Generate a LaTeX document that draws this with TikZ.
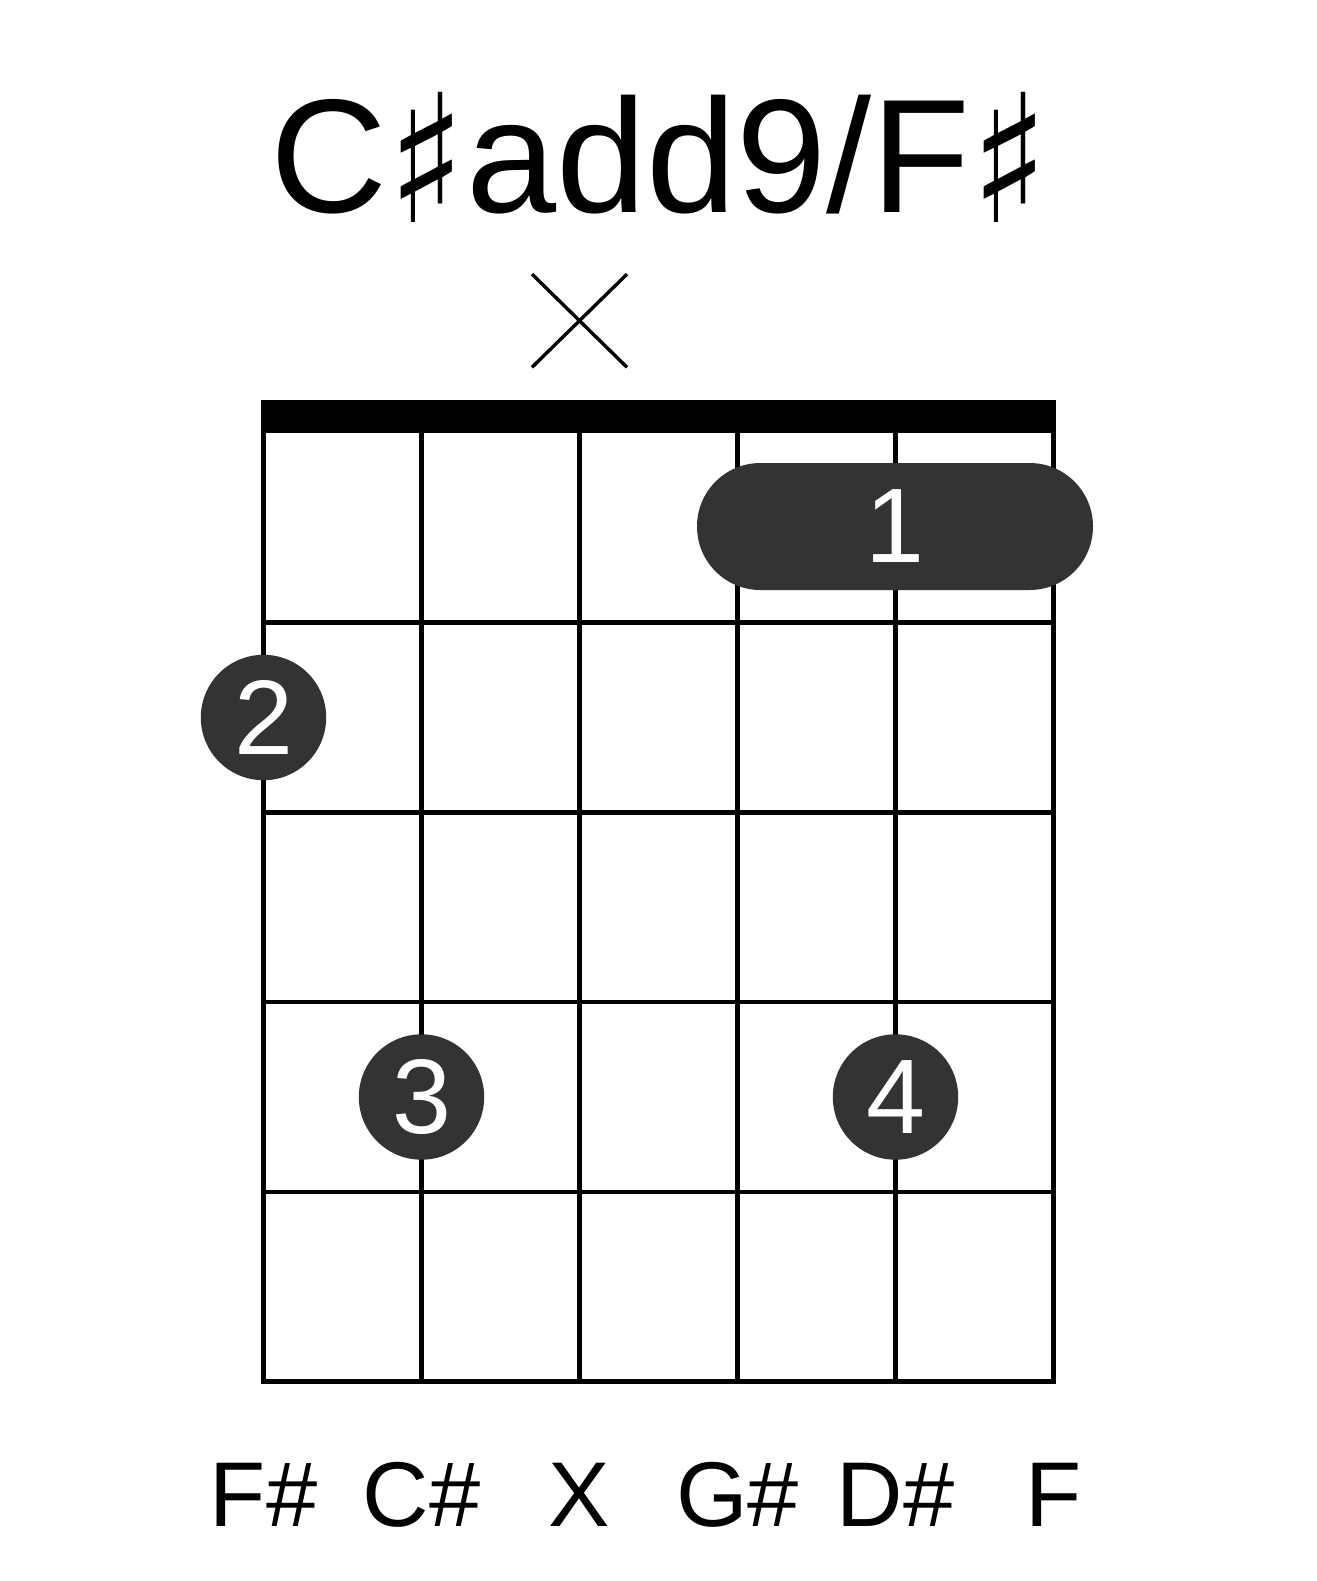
\documentclass[tikz,border=0pt]{standalone}
\usepackage{fontspec}
\setmainfont{Liberation Sans}
\newfontfamily\sharpfont{DejaVu Sans}
\usetikzlibrary{positioning}
\definecolor{dotgray}{RGB}{51,51,51}
\newcommand{\titlesharp}{\raisebox{-5pt}{\scalebox{1.0}[1.1]{\sharpfont ♯}}}

\begin{document}
\begin{tikzpicture}[
  x=0.5pt,y=-0.5pt,
  chordname/.style={anchor=base,font=\fontsize{81}{81}\selectfont},
  gridline/.style={line width=2.25pt,line cap=rect},
  mutemark/.style={line width=1.7pt},
  finger/.style={circle,fill=dotgray,text=white,inner sep=0pt,
    minimum size=62.7pt,font=\fontsize{53}{53}\selectfont},
  barre/.style={rectangle,rounded corners=31.7pt,fill=dotgray,text=white,
    inner sep=0pt,minimum width=198pt,minimum height=63.5pt,
    font=\fontsize{53}{53}\selectfont},
  notename/.style={anchor=base,font=\fontsize{46}{46}\selectfont}
]
  \useasboundingbox (0,0) rectangle (1317,1581);

  \node[chordname] (title) at (660,212) {C\titlesharp add9/F\titlesharp};

  % muted string
  \coordinate (mute) at (579.5,320.7);
  \draw[mutemark] (mute) +(-47.5,-46.6) -- +(47.5,46.6)
                  (mute) +(-47.5,46.6) -- +(47.5,-46.6);

  % nut, strings and frets
  \fill (261,400) rectangle (1056,433);
  \foreach \s in {0,...,5}
    \draw[gridline] (263.5+158*\s,433) -- (263.5+158*\s,1381.5);
  \foreach \f in {1,...,5}
    \draw[gridline] (263.5,433+189.7*\f) -- (1053.5,433+189.7*\f);

  % fingers
  \node[barre] (f1) at (895,526.5) {1};
  \node[finger] (f2) at (263.5,717.5) {2};
  \node[finger] (f3) at (421.5,1097) {3};
  \node[finger] (f4) at (895.5,1097) {4};

  % notes under the strings
  \foreach \n [count=\i from 0] in {F\#,C\#,X,G\#,D\#,F}
    \node[notename] (note\i) at (263.5+158*\i,1526) {\n};
\end{tikzpicture}
\end{document}
